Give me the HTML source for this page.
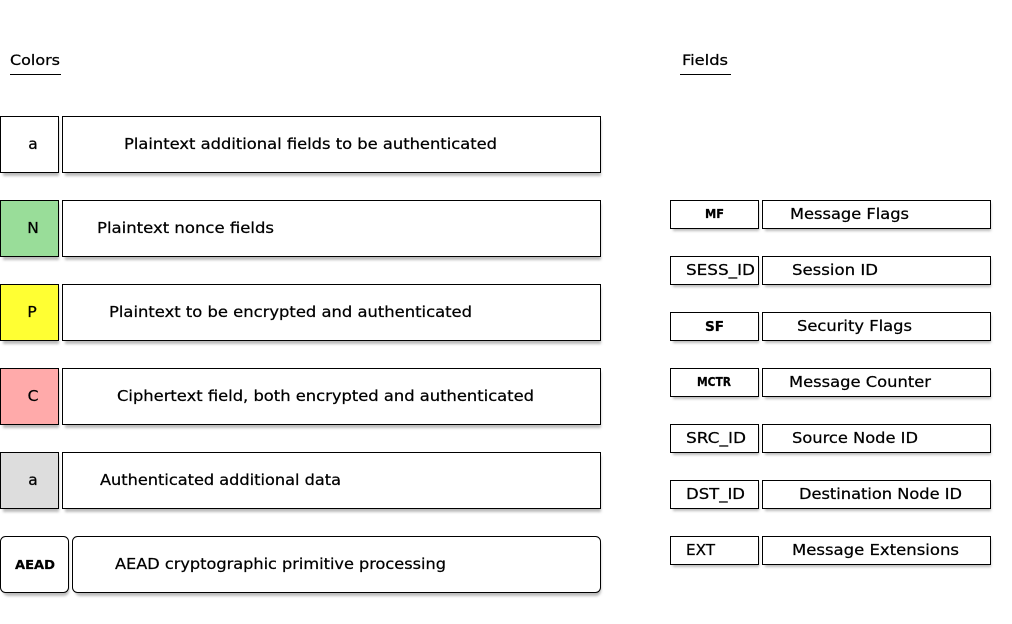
<!DOCTYPE html>
<html><head><meta charset="utf-8"><style>
html,body{margin:0;padding:0;background:#fff;}
svg{display:block;}
text{font-family:"DejaVu Sans","Liberation Sans",sans-serif;fill:#000;stroke:#000;stroke-width:0.25;}
</style></head><body>
<svg width="1012" height="624" xmlns="http://www.w3.org/2000/svg">
<defs><filter id="b" x="-10%" y="-10%" width="130%" height="140%"><feGaussianBlur stdDeviation="1.2"/></filter></defs>
<text x="10" y="65" font-size="14.5" textLength="50" lengthAdjust="spacingAndGlyphs">Colors</text>
<line x1="10" y1="74.5" x2="61" y2="74.5" stroke="#000"/>
<text x="682" y="65" font-size="14.5" textLength="46" lengthAdjust="spacingAndGlyphs">Fields</text>
<line x1="680" y1="74.5" x2="731" y2="74.5" stroke="#000"/>
<g font-size="15.5">
<g>
<rect x="3" y="120" width="56" height="56" fill="#bbb" filter="url(#b)"/><rect x="65" y="120" width="536" height="56" fill="#bbb" filter="url(#b)"/>
<rect x="0.5" y="116.5" width="58" height="56" fill="#fff" stroke="#000"/><rect x="62.5" y="116.5" width="538" height="56" fill="#fff" stroke="#000"/>
<text x="33" y="149" text-anchor="middle">a</text><text x="124" y="149" textLength="373" lengthAdjust="spacingAndGlyphs">Plaintext additional fields to be authenticated</text>
</g>
<g>
<rect x="3" y="204" width="56" height="56" fill="#bbb" filter="url(#b)"/><rect x="65" y="204" width="536" height="56" fill="#bbb" filter="url(#b)"/>
<rect x="0.5" y="200.5" width="58" height="56" fill="#99dd99" stroke="#000"/><rect x="62.5" y="200.5" width="538" height="56" fill="#fff" stroke="#000"/>
<text x="33" y="233" text-anchor="middle">N</text><text x="97" y="233" textLength="177" lengthAdjust="spacingAndGlyphs">Plaintext nonce fields</text>
</g>
<g>
<rect x="3" y="288" width="56" height="56" fill="#bbb" filter="url(#b)"/><rect x="65" y="288" width="536" height="56" fill="#bbb" filter="url(#b)"/>
<rect x="0.5" y="284.5" width="58" height="56" fill="#ffff33" stroke="#000"/><rect x="62.5" y="284.5" width="538" height="56" fill="#fff" stroke="#000"/>
<text x="32" y="317" text-anchor="middle">P</text><text x="109" y="317" textLength="363" lengthAdjust="spacingAndGlyphs">Plaintext to be encrypted and authenticated</text>
</g>
<g>
<rect x="3" y="372" width="56" height="56" fill="#bbb" filter="url(#b)"/><rect x="65" y="372" width="536" height="56" fill="#bbb" filter="url(#b)"/>
<rect x="0.5" y="368.5" width="58" height="56" fill="#ffaaaa" stroke="#000"/><rect x="62.5" y="368.5" width="538" height="56" fill="#fff" stroke="#000"/>
<text x="33" y="401" text-anchor="middle">C</text><text x="117" y="401" textLength="417" lengthAdjust="spacingAndGlyphs">Ciphertext field, both encrypted and authenticated</text>
</g>
<g>
<rect x="3" y="456" width="56" height="56" fill="#bbb" filter="url(#b)"/><rect x="65" y="456" width="536" height="56" fill="#bbb" filter="url(#b)"/>
<rect x="0.5" y="452.5" width="58" height="56" fill="#dddddd" stroke="#000"/><rect x="62.5" y="452.5" width="538" height="56" fill="#fff" stroke="#000"/>
<text x="33" y="485" text-anchor="middle">a</text><text x="100" y="485" textLength="241" lengthAdjust="spacingAndGlyphs">Authenticated additional data</text>
</g>
<g>
<rect x="3" y="540" width="66" height="56" rx="5" fill="#bbb" filter="url(#b)"/><rect x="75" y="540" width="526" height="56" rx="5" fill="#bbb" filter="url(#b)"/>
<rect x="0.5" y="536.5" width="68" height="56" rx="5" fill="#fff" stroke="#000"/><rect x="72.5" y="536.5" width="528" height="56" rx="5" fill="#fff" stroke="#000"/>
<text x="15" y="569" font-size="12.5" font-weight="bold" stroke-width="0" textLength="40" lengthAdjust="spacingAndGlyphs">AEAD</text><text x="115" y="569" textLength="331" lengthAdjust="spacingAndGlyphs">AEAD cryptographic primitive processing</text>
</g>
</g>
<g font-size="15.5">
<g>
<rect x="673" y="203" width="86" height="28" fill="#bbb" filter="url(#b)"/><rect x="765" y="203" width="226" height="28" fill="#bbb" filter="url(#b)"/>
<rect x="670.5" y="200.5" width="88" height="28" fill="#fff" stroke="#000"/><rect x="762.5" y="200.5" width="228" height="28" fill="#fff" stroke="#000"/>
<text x="705" y="218" font-size="12" font-weight="bold" stroke-width="0" textLength="19" lengthAdjust="spacingAndGlyphs">MF</text><text x="790" y="219" textLength="119" lengthAdjust="spacingAndGlyphs">Message Flags</text>
</g>
<g transform="translate(0,56)">
<rect x="673" y="203" width="86" height="28" fill="#bbb" filter="url(#b)"/><rect x="765" y="203" width="226" height="28" fill="#bbb" filter="url(#b)"/>
<rect x="670.5" y="200.5" width="88" height="28" fill="#fff" stroke="#000"/><rect x="762.5" y="200.5" width="228" height="28" fill="#fff" stroke="#000"/>
<text x="686" y="219" textLength="69" lengthAdjust="spacingAndGlyphs">SESS_ID</text><text x="792" y="219" textLength="86" lengthAdjust="spacingAndGlyphs">Session ID</text>
</g>
<g transform="translate(0,112)">
<rect x="673" y="203" width="86" height="28" fill="#bbb" filter="url(#b)"/><rect x="765" y="203" width="226" height="28" fill="#bbb" filter="url(#b)"/>
<rect x="670.5" y="200.5" width="88" height="28" fill="#fff" stroke="#000"/><rect x="762.5" y="200.5" width="228" height="28" fill="#fff" stroke="#000"/>
<text x="705" y="219" font-size="13" font-weight="bold" stroke-width="0" textLength="19" lengthAdjust="spacingAndGlyphs">SF</text><text x="797" y="219" textLength="115" lengthAdjust="spacingAndGlyphs">Security Flags</text>
</g>
<g transform="translate(0,168)">
<rect x="673" y="203" width="86" height="28" fill="#bbb" filter="url(#b)"/><rect x="765" y="203" width="226" height="28" fill="#bbb" filter="url(#b)"/>
<rect x="670.5" y="200.5" width="88" height="28" fill="#fff" stroke="#000"/><rect x="762.5" y="200.5" width="228" height="28" fill="#fff" stroke="#000"/>
<text x="697" y="218" font-size="12" font-weight="bold" stroke-width="0" textLength="34" lengthAdjust="spacingAndGlyphs">MCTR</text><text x="789" y="219" textLength="142" lengthAdjust="spacingAndGlyphs">Message Counter</text>
</g>
<g transform="translate(0,224)">
<rect x="673" y="203" width="86" height="28" fill="#bbb" filter="url(#b)"/><rect x="765" y="203" width="226" height="28" fill="#bbb" filter="url(#b)"/>
<rect x="670.5" y="200.5" width="88" height="28" fill="#fff" stroke="#000"/><rect x="762.5" y="200.5" width="228" height="28" fill="#fff" stroke="#000"/>
<text x="686" y="219" textLength="60" lengthAdjust="spacingAndGlyphs">SRC_ID</text><text x="792" y="219" textLength="126" lengthAdjust="spacingAndGlyphs">Source Node ID</text>
</g>
<g transform="translate(0,280)">
<rect x="673" y="203" width="86" height="28" fill="#bbb" filter="url(#b)"/><rect x="765" y="203" width="226" height="28" fill="#bbb" filter="url(#b)"/>
<rect x="670.5" y="200.5" width="88" height="28" fill="#fff" stroke="#000"/><rect x="762.5" y="200.5" width="228" height="28" fill="#fff" stroke="#000"/>
<text x="686" y="219" textLength="59" lengthAdjust="spacingAndGlyphs">DST_ID</text><text x="799" y="219" textLength="163" lengthAdjust="spacingAndGlyphs">Destination Node ID</text>
</g>
<g transform="translate(0,336)">
<rect x="673" y="203" width="86" height="28" fill="#bbb" filter="url(#b)"/><rect x="765" y="203" width="226" height="28" fill="#bbb" filter="url(#b)"/>
<rect x="670.5" y="200.5" width="88" height="28" fill="#fff" stroke="#000"/><rect x="762.5" y="200.5" width="228" height="28" fill="#fff" stroke="#000"/>
<text x="686" y="219" textLength="29" lengthAdjust="spacingAndGlyphs">EXT</text><text x="792" y="219" textLength="167" lengthAdjust="spacingAndGlyphs">Message Extensions</text>
</g>
</g>
</svg>
</body></html>
